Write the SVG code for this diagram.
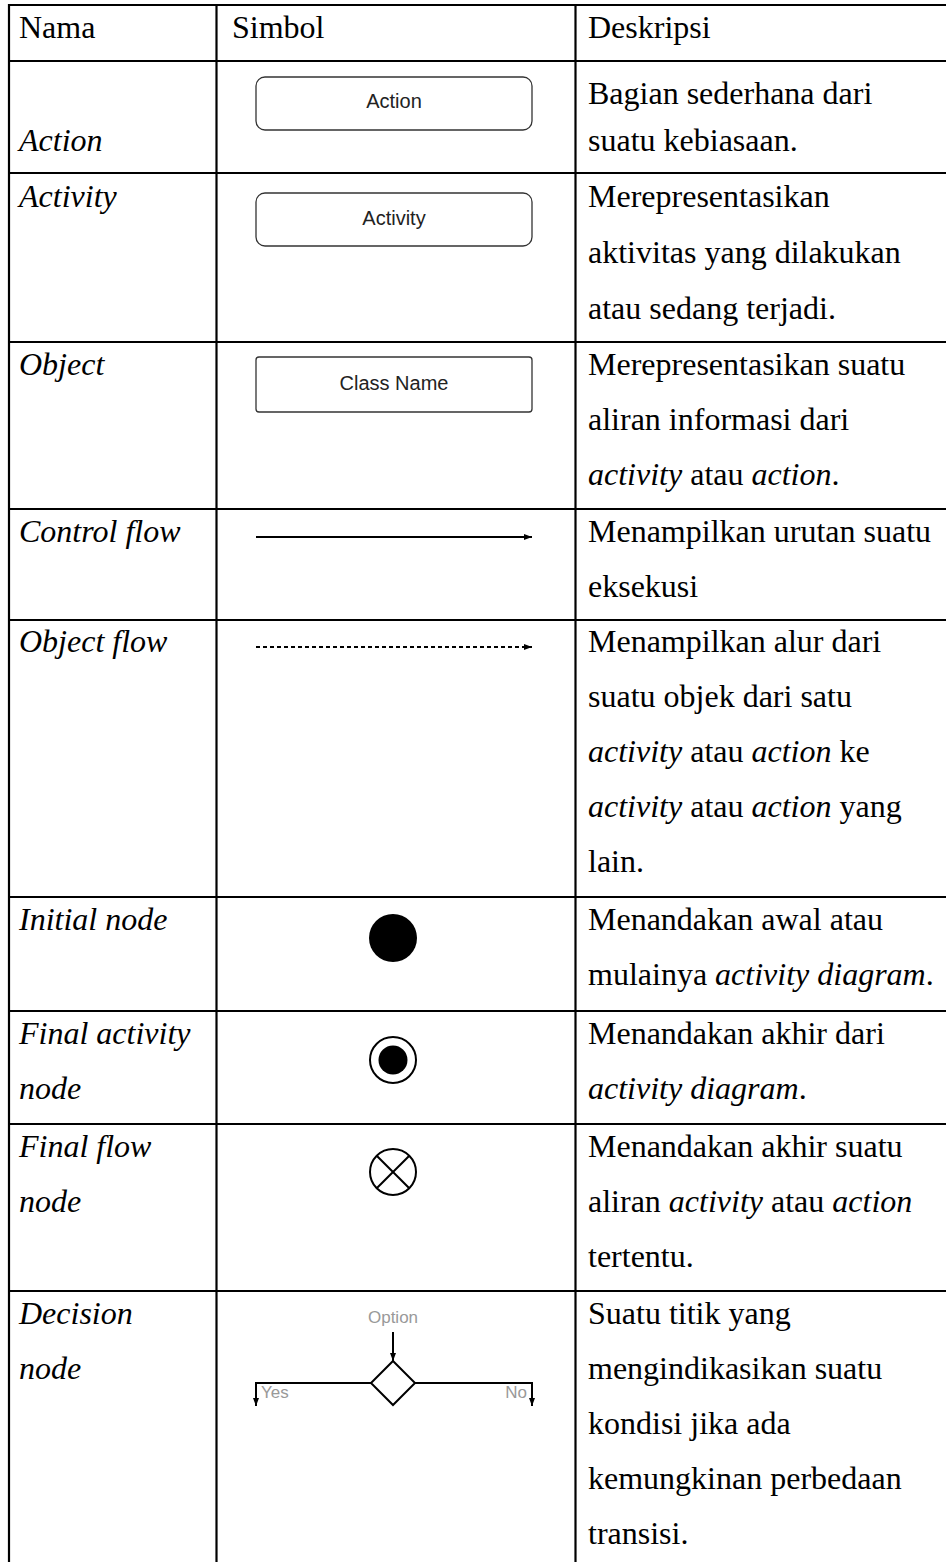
<svg xmlns="http://www.w3.org/2000/svg" width="946" height="1562" viewBox="0 0 946 1562">
<style>
.t{font-family:"Liberation Serif","Times New Roman",serif;font-size:32px;fill:#000}
.i{font-style:italic}
.s{font-family:"Liberation Sans",Arial,sans-serif;font-size:20px;fill:#222;text-anchor:middle}
.g{font-family:"Liberation Sans",Arial,sans-serif;font-size:17px;fill:#999}
.grid{stroke:#000;stroke-width:2.2;fill:none}
.box{fill:#fff;stroke:#333;stroke-width:1.3}
</style>
<defs>
<marker id="ah" markerWidth="8" markerHeight="6" refX="8" refY="3" orient="auto" markerUnits="userSpaceOnUse"><path d="M0,0 L8,3 L0,6 Z" fill="#000"/></marker>
</defs>
<rect width="946" height="1562" fill="#fff"/>
<g id="grid" class="grid">
<line x1="9" y1="5" x2="946" y2="5"/>
<line x1="9" y1="4" x2="9" y2="1562"/>
<line x1="216.5" y1="4" x2="216.5" y2="1562"/>
<line x1="575.5" y1="4" x2="575.5" y2="1562"/>
<line x1="9" y1="61" x2="946" y2="61"/>
<line x1="9" y1="173" x2="946" y2="173"/>
<line x1="9" y1="342" x2="946" y2="342"/>
<line x1="9" y1="509" x2="946" y2="509"/>
<line x1="9" y1="620" x2="946" y2="620"/>
<line x1="9" y1="897" x2="946" y2="897"/>
<line x1="9" y1="1011" x2="946" y2="1011"/>
<line x1="9" y1="1124" x2="946" y2="1124"/>
<line x1="9" y1="1291" x2="946" y2="1291"/>
</g>
<g id="header">
<text class="t" x="19" y="38">Nama</text>
<text class="t" x="232" y="38">Simbol</text>
<text class="t" x="588" y="38">Deskripsi</text>
</g>
<g id="row-action">
<text class="t i" x="19" y="151">Action</text>
<rect class="box" x="256" y="77" width="276" height="53" rx="9"/>
<text class="s" x="394" y="108">Action</text>
<text class="t" x="588" y="104">Bagian sederhana dari</text>
<text class="t" x="588" y="151">suatu kebiasaan.</text>
</g>
<g id="row-activity">
<text class="t i" x="19" y="207">Activity</text>
<rect class="box" x="256" y="193" width="276" height="53" rx="9"/>
<text class="s" x="394" y="225">Activity</text>
<text class="t" x="588" y="207">Merepresentasikan</text>
<text class="t" x="588" y="263">aktivitas yang dilakukan</text>
<text class="t" x="588" y="319">atau sedang terjadi.</text>
</g>
<g id="row-object">
<text class="t i" x="19" y="375">Object</text>
<rect class="box" x="256" y="357" width="276" height="55" rx="3"/>
<text class="s" x="394" y="390">Class Name</text>
<text class="t" x="588" y="375">Merepresentasikan suatu</text>
<text class="t" x="588" y="430">aliran informasi dari</text>
<text class="t" x="588" y="485"><tspan class="i">activity</tspan> atau <tspan class="i">action</tspan>.</text>
</g>
<g id="row-control-flow">
<text class="t i" x="19" y="542">Control flow</text>
<text class="t" x="588" y="542">Menampilkan urutan suatu</text>
<text class="t" x="588" y="597">eksekusi</text>
</g>
<g id="row-object-flow">
<text class="t i" x="19" y="652">Object flow</text>
<text class="t" x="588" y="652">Menampilkan alur dari</text>
<text class="t" x="588" y="707">suatu objek dari satu</text>
<text class="t" x="588" y="762"><tspan class="i">activity</tspan> atau <tspan class="i">action</tspan> ke</text>
<text class="t" x="588" y="817"><tspan class="i">activity</tspan> atau <tspan class="i">action</tspan> yang</text>
<text class="t" x="588" y="872">lain.</text>
</g>
<g id="row-initial">
<text class="t i" x="19" y="930">Initial node</text>
<circle cx="393" cy="938" r="24" fill="#000"/>
<text class="t" x="588" y="930">Menandakan awal atau</text>
<text class="t" x="588" y="985">mulainya <tspan class="i">activity diagram</tspan>.</text>
</g>
<g id="row-final-activity">
<text class="t i" x="19" y="1044">Final activity</text>
<text class="t i" x="19" y="1099">node</text>
<circle cx="393" cy="1060" r="23" fill="#fff" stroke="#000" stroke-width="2"/>
<circle cx="393" cy="1060" r="14.5" fill="#000"/>
<text class="t" x="588" y="1044">Menandakan akhir dari</text>
<text class="t i" x="588" y="1099">activity diagram<tspan font-style="normal">.</tspan></text>
</g>
<g id="row-final-flow">
<text class="t i" x="19" y="1157">Final flow</text>
<text class="t i" x="19" y="1212">node</text>
<circle cx="393" cy="1172" r="23" fill="#fff" stroke="#000" stroke-width="2"/>
<line x1="376.7" y1="1155.7" x2="409.3" y2="1188.3" stroke="#000" stroke-width="2"/>
<line x1="409.3" y1="1155.7" x2="376.7" y2="1188.3" stroke="#000" stroke-width="2"/>
<text class="t" x="588" y="1157">Menandakan akhir suatu</text>
<text class="t" x="588" y="1212">aliran <tspan class="i">activity</tspan> atau <tspan class="i">action</tspan></text>
<text class="t" x="588" y="1267">tertentu.</text>
</g>
<g id="row-decision">
<text class="t i" x="19" y="1324">Decision</text>
<text class="t i" x="19" y="1379">node</text>
<text class="g" x="393" y="1323" text-anchor="middle">Option</text>
<polygon points="393,1361 415,1383 393,1405 371,1383" fill="#fff" stroke="#000" stroke-width="2"/>
<text class="g" x="261" y="1398">Yes</text>
<text class="g" x="527" y="1398" text-anchor="end">No</text>
<text class="t" x="588" y="1324">Suatu titik yang</text>
<text class="t" x="588" y="1379">mengindikasikan suatu</text>
<text class="t" x="588" y="1434">kondisi jika ada</text>
<text class="t" x="588" y="1489">kemungkinan perbedaan</text>
<text class="t" x="588" y="1544">transisi.</text>
</g>
<g id="connectors" fill="none" stroke="#000" stroke-width="2">
<line x1="256" y1="537" x2="532" y2="537" marker-end="url(#ah)"/>
<line x1="256" y1="647" x2="532" y2="647" stroke-dasharray="4,3" marker-end="url(#ah)"/>
<line x1="393" y1="1332" x2="393" y2="1361" marker-end="url(#ah)"/>
<polyline points="371,1383 256,1383 256,1406" marker-end="url(#ah)"/>
<polyline points="415,1383 532,1383 532,1406" marker-end="url(#ah)"/>
</g>
</svg>
